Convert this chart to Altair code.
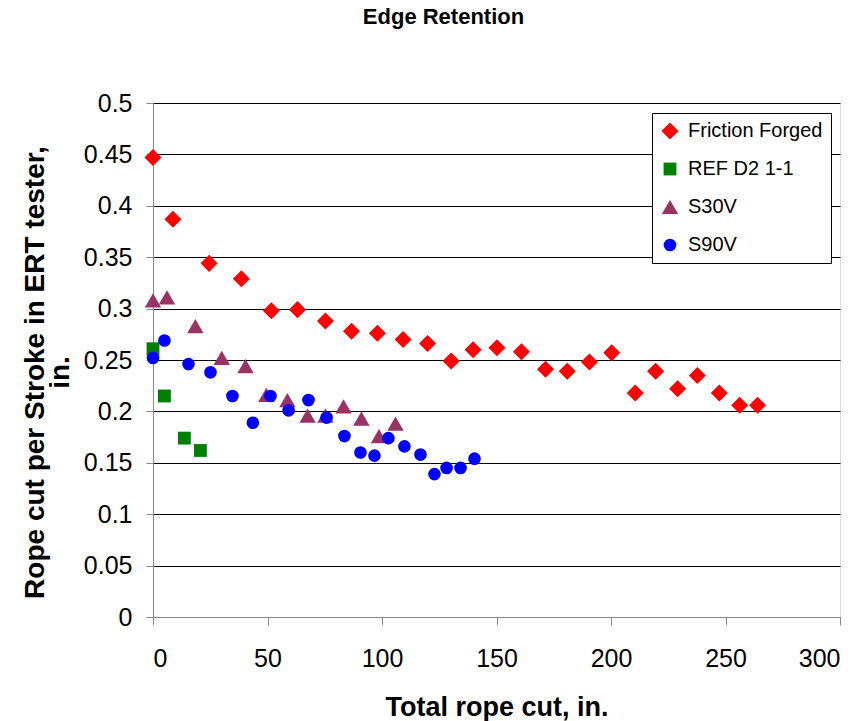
import altair as alt
import pandas as pd

# ---- data ----
series_names = ["Friction Forged", "REF D2 1-1", "S30V", "S90V"]
series_colors = ["#FF0000", "#008000", "#993366", "#0000FF"]
series_shapes = ["diamond", "square", "triangle-up", "circle"]
series_sizes = [290, 165, 270, 160]

ff_x = [0, 8.7, 24.5, 38.6, 51.7, 63.1, 75.3, 86.7, 98.0, 109.2, 119.9, 130.2, 139.8,
        150.2, 160.9, 171.4, 180.9, 190.6, 200.3, 210.6, 219.5, 229.1, 237.7, 247.3, 256.2, 264.0]
ff_y = [0.447, 0.387, 0.344, 0.329, 0.298, 0.299, 0.288, 0.278, 0.276, 0.270, 0.266, 0.249, 0.260,
        0.262, 0.258, 0.241, 0.239, 0.248, 0.257, 0.218, 0.239, 0.222, 0.235, 0.218, 0.206, 0.206]

d2_x = [0, 5.0, 13.7, 20.7]
d2_y = [0.261, 0.215, 0.174, 0.162]

s30_x = [0, 6.1, 18.5, 30.0, 40.4, 49.5, 58.7, 67.5, 75.3, 83.2, 91.0, 98.7, 105.9]
s30_y = [0.308, 0.311, 0.283, 0.252, 0.244, 0.216, 0.211, 0.196, 0.196, 0.205, 0.193, 0.176, 0.188]

s90_x = [0, 5.0, 15.5, 25.1, 34.7, 43.6, 51.3, 59.2, 67.9, 75.8, 83.6, 90.6, 96.7, 102.8,
         109.8, 116.8, 122.9, 128.2, 134.3, 140.4]
s90_y = [0.252, 0.269, 0.246, 0.238, 0.215, 0.189, 0.215, 0.201, 0.211, 0.194, 0.176, 0.160, 0.157, 0.174,
         0.166, 0.158, 0.139, 0.145, 0.145, 0.154]

x_ticks = [0, 50, 100, 150, 200, 250, 300]
y_ticks = [0, 0.05, 0.1, 0.15, 0.2, 0.25, 0.3, 0.35, 0.4, 0.45, 0.5]

rows = []
for name, xs, ys in zip(series_names, [ff_x, d2_x, s30_x, s90_x], [ff_y, d2_y, s30_y, s90_y]):
    for xv, yv in zip(xs, ys):
        rows.append({"series": name, "x": xv, "y": yv, "order": series_names.index(name)})
df = pd.DataFrame(rows)

FONT = "Liberation Sans"

legend = alt.Legend(
    orient="none", legendX=499, legendY=10, title=None,
    strokeColor="black", fillColor="white", padding=8,
    labelFont=FONT, labelFontSize=20, labelColor="black", labelOffset=8,
    rowPadding=18, symbolStrokeWidth=0, symbolOpacity=1,
)

chart = alt.Chart(df).mark_point(filled=True, opacity=1).encode(
    x=alt.X("x:Q", scale=alt.Scale(domain=[0, 300], nice=False, zero=False),
            axis=alt.Axis(values=x_ticks, grid=False, tickSize=8, labelPadding=21,
                          labelFont=FONT, labelFontSize=25, format="d",
                          title="Total rope cut, in.", titleFont=FONT, titleFontSize=27,
                          titleFontWeight="bold", titleBaseline="alphabetic",
                          titleY=98, titleX=343.5, titleAlign="center")),
    y=alt.Y("y:Q", scale=alt.Scale(domain=[0, 0.5], nice=False),
            axis=alt.Axis(values=y_ticks, grid=True, gridColor="black", gridOpacity=1,
                          tickSize=7, labelPadding=14, labelFont=FONT, labelFontSize=25,
                          format=".2~f",
                          title=["Rope cut per Stroke in ERT tester,", "in."],
                          titleFont=FONT, titleFontSize=28, titleFontWeight="bold",
                          titleAngle=-90, titleBaseline="alphabetic", titleAlign="center",
                          titleLineHeight=25, titleX=-110, titleY=269)),
    color=alt.Color("series:N", scale=alt.Scale(domain=series_names, range=series_colors),
                    legend=legend),
    shape=alt.Shape("series:N", scale=alt.Scale(domain=series_names, range=series_shapes),
                    legend=legend),
    size=alt.Size("series:N", scale=alt.Scale(type="ordinal", domain=series_names,
                                              range=series_sizes),
                  legend=legend),
    order=alt.Order("order:Q"),
).properties(
    width=687, height=514,
    title=alt.TitleParams("Edge Retention", font=FONT, fontSize=22, fontWeight="bold",
                          anchor="middle", frame="group", dx=-53, offset=45,
                          baseline="alphabetic", color="black"),
    autosize=alt.AutoSizeParams(type="none"),
    padding={"left": 153, "top": 103, "right": 25, "bottom": 104},
).configure_view(
    stroke="#808080", strokeWidth=1
).configure_axis(
    domainColor="#808080", tickColor="#808080", labelColor="black", titleColor="black"
).configure(background="white")

chart.save("out.html", embed_options={"renderer": "svg", "actions": False})
